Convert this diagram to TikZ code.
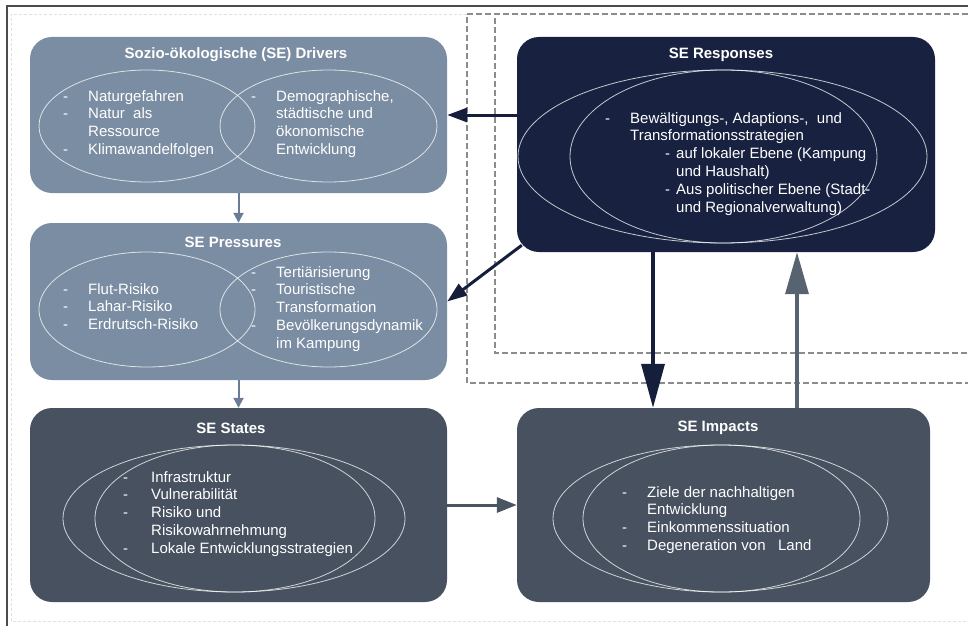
\documentclass[tikz,border=0pt]{standalone}
\usepackage{fontspec}
\setmainfont{Liberation Sans}
\usetikzlibrary{arrows.meta,calc}
\definecolor{drvcol}{RGB}{123,141,163}
\definecolor{stscol}{RGB}{71,81,95}
\definecolor{respcol}{RGB}{24,34,64}
\definecolor{lightarrow}{RGB}{104,124,150}
\definecolor{navyarrow}{RGB}{21,31,60}
\definecolor{slatearrow}{RGB}{74,85,100}
\definecolor{uparrow}{RGB}{88,99,114}
\definecolor{dashgray}{RGB}{140,140,140}
\newcommand{\dashitem}[1]{\makebox[25pt][l]{-}#1}
\newcommand{\contline}[1]{\hspace*{25pt}#1}
\tikzset{
  box/.style={rounded corners=22pt, draw=none, inner sep=0pt},
  ttl/.style={text=white, font=\fontsize{15}{17.8}\selectfont\bfseries, inner sep=0pt},
  body/.style={text=white, font=\fontsize{15}{17.8}\selectfont, align=left, inner sep=0pt, anchor=north west},
  ell/.style={draw=white, draw opacity=0.75, line width=0.8pt},
  frame/.style={draw=dashgray, line width=1.1pt, dash pattern=on 6pt off 3pt},
}
\begin{document}
\begin{tikzpicture}[x=1pt,y=-1pt]
\useasboundingbox (0,0) rectangle (968,626);
\fill[white] (0,0) rectangle (968,626);
% outer frame
\draw[black!70, line width=1.2pt] (968,6) -- (7,6) -- (7,626);
\draw[black!12, line width=0.8pt, dash pattern=on 3pt off 2pt] (467,14) -- (11,14) -- (11,621) -- (968,621);
% dashed frames
\draw[frame] (968,14) -- (467,14) -- (467,383) -- (968,383);
\draw[frame] (968,14) -- (495,14) -- (495,353) -- (968,353);

% boxes
\node[box, fill=drvcol, minimum width=417pt, minimum height=156pt] (drv) at (238.5,115) {};
\node[box, fill=drvcol, minimum width=417pt, minimum height=157pt] (prs) at (238.5,301.5) {};
\node[box, fill=stscol, minimum width=417pt, minimum height=194pt] (sts) at (238.5,505) {};
\node[box, fill=respcol, minimum width=418pt, minimum height=215pt] (resp) at (726,144.5) {};
\node[box, fill=stscol, minimum width=413pt, minimum height=194pt] (imp) at (723.5,505) {};

% ellipses
\draw[ell] (147,126) ellipse [x radius=108pt, y radius=56pt];
\draw[ell] (328.5,126) ellipse [x radius=108.5pt, y radius=56pt];
\draw[ell] (147,309.5) ellipse [x radius=108pt, y radius=57.5pt];
\draw[ell] (328.5,309.5) ellipse [x radius=108.5pt, y radius=57.5pt];
\draw[ell] (234,518.5) ellipse [x radius=171pt, y radius=73.5pt];
\draw[ell] (235,518.5) ellipse [x radius=140pt, y radius=73.5pt];
\draw[ell] (722.5,156.5) ellipse [x radius=204.5pt, y radius=86.5pt];
\draw[ell] (723.5,156.5) ellipse [x radius=153.5pt, y radius=86.5pt];
\draw[ell] (720.5,518.5) ellipse [x radius=167.5pt, y radius=73.5pt];
\draw[ell] (721.5,518.5) ellipse [x radius=138.5pt, y radius=73.5pt];

% titles
\node[ttl] (tdrv) at (236,55) {Sozio-ökologische (SE) Drivers};
\node[ttl] (tprs) at (233,242) {SE Pressures};
\node[ttl] (tsts) at (231,428) {SE States};
\node[ttl] (tresp) at (721,55) {SE Responses};
\node[ttl] (timp) at (718,428) {SE Impacts};

% texts
\node[body] (drvL) at (63,90) {\dashitem{Naturgefahren}\\ \dashitem{Natur\ \ als}\\ \contline{Ressource}\\ \dashitem{Klimawandelfolgen}};
\node[body] (drvR) at (251,90) {\dashitem{Demographische,}\\ \contline{städtische und}\\ \contline{ökonomische}\\ \contline{Entwicklung}};
\node[body] (prsL) at (63,283) {\dashitem{Flut-Risiko}\\ \dashitem{Lahar-Risiko}\\ \dashitem{Erdrutsch-Risiko}};
\node[body] (prsR) at (251,266) {\dashitem{Tertiärisierung}\\ \dashitem{Touristische}\\ \contline{Transformation}\\ \dashitem{Bevölkerungsdynamik}\\ \contline{im Kampung}};
\node[body] (stsT) at (123,471) {\makebox[28pt][l]{-}Infrastruktur\\ \makebox[28pt][l]{-}Vulnerabilität\\ \makebox[28pt][l]{-}Risiko und\\ \hspace*{28pt}Risikowahrnehmung\\ \makebox[28pt][l]{-}Lokale Entwicklungsstrategien};
\node[body] (respT) at (605,112) {\dashitem{Bewältigungs-, Adaptions-,\ \ und}\\ \contline{Transformationsstrategien}\\ \hspace*{60pt}\makebox[11pt][l]{-}auf lokaler Ebene (Kampung\\ \hspace*{71pt}und Haushalt)\\ \hspace*{60pt}\makebox[11pt][l]{-}Aus politischer Ebene (Stadt-\\ \hspace*{71pt}und Regionalverwaltung)};
\node[body] (impT) at (622,486) {\dashitem{Ziele der nachhaltigen}\\ \contline{Entwicklung}\\ \dashitem{Einkommenssituation}\\ \dashitem{Degeneration von\ \ \ Land}};

% connectors
\coordinate (xdown) at (653,0);
\coordinate (xup) at (797,0);
\draw[lightarrow, line width=2pt, -{Triangle[length=10pt,width=10pt]}] (drv.south) -- (prs.north);
\draw[lightarrow, line width=2pt, -{Triangle[length=10pt,width=10pt]}] (prs.south) -- (sts.north);
\draw[navyarrow, line width=3pt, -{Triangle[length=20pt,width=14pt]}] (resp.west |- drv.east) -- (drv.east);
\draw[navyarrow, line width=3pt, -{Triangle[length=20pt,width=14pt]}] ($(resp.south west)+(5,-7)$) -- (prs.east);
\draw[slatearrow, line width=3pt, -{Triangle[length=20pt,width=15pt]}] (sts.east) -- (imp.west);
\draw[navyarrow, line width=3.5pt, -{Triangle[length=44pt,width=23pt]}] (resp.south -| xdown) -- (imp.north -| xdown);
\draw[uparrow, line width=3.5pt, -{Triangle[length=42pt,width=23pt]}] (imp.north -| xup) -- (resp.south -| xup);
\end{tikzpicture}
\end{document}
